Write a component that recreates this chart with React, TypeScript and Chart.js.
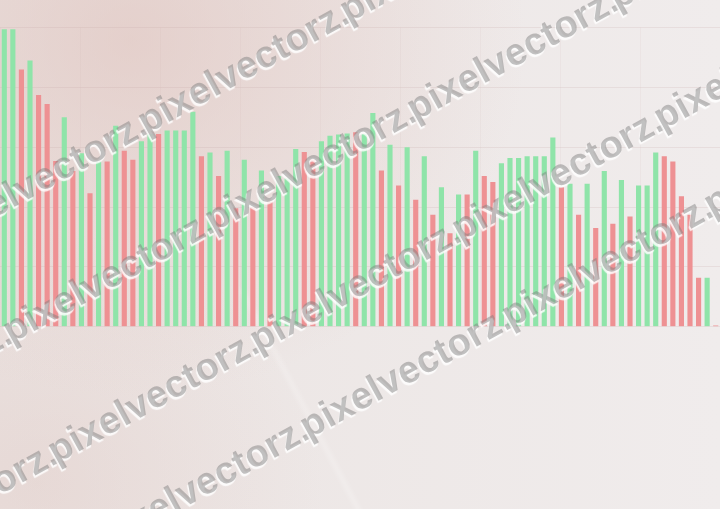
import React, { useEffect, useRef } from "react";
import { Chart, registerables } from "chart.js";

Chart.register(...registerables);

const categories: string[] = [
  "1","2","3","4","5","6","7","8","9","10","11","12","13","14","15","16","17","18","19","20","21",
  "22","23","24","25","26","27","28","29","30","31","32","33","34","35","36","37","38","39","40","41","42",
  "43","44","45","46","47","48","49","50","51","52","53","54","55","56","57","58","59","60","61","62","63",
  "64","65","66","67","68","69","70","71","72","73","74","75","76","77","78","79","80","81","82","83","84",
];

const values: number[] = [
  4.97, 4.97, 4.30, 4.45, 3.87, 3.72, 2.77, 3.50, 2.60, 2.90, 2.23, 2.76, 2.76, 3.36,
  2.94, 2.79, 3.10, 3.22, 3.22, 3.28, 3.28, 3.28, 3.59, 2.85, 2.91, 2.52, 2.94, 1.98,
  2.79, 2.00, 2.61, 2.09, 2.52, 2.48, 2.97, 2.92, 2.80, 3.10, 3.19, 3.21, 3.23, 3.25,
  3.22, 3.57, 2.61, 3.04, 2.36, 3.00, 2.12, 2.85, 1.87, 2.33, 1.56, 2.21, 2.21, 2.94,
  2.52, 2.42, 2.73, 2.82, 2.82, 2.85, 2.85, 2.85, 3.16, 2.33, 2.39, 1.87, 2.39, 1.65,
  2.60, 1.72, 2.45, 1.84, 2.36, 2.36, 2.91, 2.85, 2.76, 2.18, 1.87, 0.82, 0.82, 0.02,
];

const directions: string[] = [
  "g","g","r","g","r","r","r","g","r","g","r","g","r","g",
  "r","r","g","g","r","g","g","g","g","r","g","r","g","r",
  "g","r","g","r","g","g","g","r","r","g","g","g","g","r",
  "g","g","r","g","r","g","r","g","r","g","r","g","r","g",
  "r","r","g","g","g","g","g","g","g","r","g","r","g","r",
  "g","r","g","r","g","g","g","r","r","r","r","r","g","r",
];

const yTicks: number[] = [0, 1, 2, 3, 4, 5];
const xGridTicks: number[] = [0, 1, 2, 3, 4, 5, 6, 7, 8];

const watermarkWord = "pixelvectorz.";
const watermarkRows: { b: number; p: number }[] = [
  { b: 200, p: 140 },
  { b: 335, p: 5 },
  { b: 480, p: 50 },
  { b: 594, p: 100 },
];

const GREEN = "#8fe4a9";
const RED = "#ee9193";
const GRID = "rgba(196, 165, 165, 0.2)";

export default function App() {
  const ref = useRef<HTMLCanvasElement | null>(null);

  useEffect(() => {
    if (!ref.current) return;
    const chart = new Chart(ref.current, {
      type: "bar",
      data: {
        labels: categories,
        datasets: [
          {
            data: values,
            backgroundColor: directions.map((d) => (d === "g" ? GREEN : RED)),
            borderWidth: 0,
            barPercentage: 0.6,
            categoryPercentage: 1,
          },
        ],
      },
      options: {
        animation: false,
        responsive: false,
        devicePixelRatio: 1,
        layout: { padding: { top: 27.5, bottom: 182.3, left: 0, right: 0 } },
        plugins: { legend: { display: false }, tooltip: { enabled: false } },
        scales: {
          x: {
            ticks: { display: false, padding: 0 },
            grid: { display: false },
            border: { display: false },
            afterFit: (s: any) => {
              s.height = 0;
            },
          },
          x2: {
            type: "linear",
            position: "bottom",
            min: xGridTicks[0],
            max: xGridTicks[xGridTicks.length - 1],
            afterBuildTicks: (s: any) => {
              s.ticks = xGridTicks.map((v) => ({ value: v }));
            },
            ticks: { display: false, padding: 0 },
            grid: { color: "rgba(196, 170, 170, 0.09)", drawTicks: false },
            border: { display: false },
            afterFit: (s: any) => {
              s.height = 0;
            },
          },
          y: {
            min: yTicks[0],
            max: yTicks[yTicks.length - 1],
            afterBuildTicks: (s: any) => {
              s.ticks = yTicks.map((v) => ({ value: v }));
            },
            ticks: { display: false, padding: 0 },
            grid: { color: GRID, drawTicks: false },
            border: { display: false },
            afterFit: (s: any) => {
              s.width = 0;
            },
          },
        },
      },
    } as any);
    return () => chart.destroy();
  }, []);

  const angle = Math.atan(0.55);
  const deg = (angle * 180) / Math.PI;
  const period = 202 / Math.cos(angle);

  return (
    <div
      style={{
        position: "fixed",
        left: 0,
        top: 0,
        width: 720,
        height: 509,
        overflow: "hidden",
        background:
          "radial-gradient(ellipse 55% 70% at 18% 8%, rgba(222,190,184,0.55), rgba(222,190,184,0) 100%), radial-gradient(ellipse 40% 50% at 5% 95%, rgba(222,195,190,0.35), rgba(222,195,190,0) 100%), linear-gradient(90deg, #ebe4e2, #f0ecec)",
      }}
    >
      <div
        style={{
          position: "absolute",
          left: 240,
          top: 290,
          width: 3,
          height: 260,
          background: "rgba(255,255,255,0.35)",
          transform: "rotate(-28deg)",
          transformOrigin: "0 0",
          filter: "blur(2px)",
        }}
      />
      <canvas ref={ref} width={720} height={509} style={{ position: "absolute", left: 0, top: 0 }} />
      {watermarkRows.map((row, ri) => {
        const x0 = row.p - 202 * 3;
        const y0 = row.b - 0.55 * x0;
        return (
          <div
            key={ri}
            style={{
              position: "absolute",
              left: 0,
              top: 0,
              whiteSpace: "nowrap",
              transformOrigin: "0 0",
              transform: `translate(${x0}px, ${y0}px) rotate(${-deg}deg) translate(0px, -22px)`,
              fontFamily: '"Liberation Sans", Arial, sans-serif',
              fontWeight: 700,
              fontSize: 38,
              letterSpacing: "0.4px",
              lineHeight: "44px",
              color: "rgba(128,128,128,0.48)",
              textShadow: "-2px 2px 1px rgba(255,255,255,0.85)",
              pointerEvents: "none",
            }}
          >
            {Array.from({ length: 9 }).map((_, k) => (
              <span key={k} style={{ display: "inline-block", width: period }}>
                {watermarkWord}
              </span>
            ))}
          </div>
        );
      })}
    </div>
  );
}
